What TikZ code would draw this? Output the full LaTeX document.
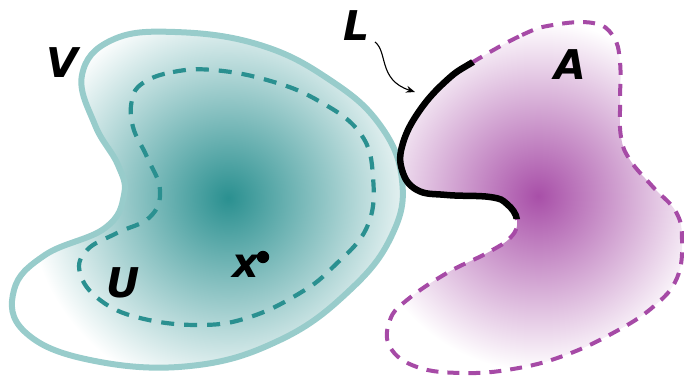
\documentclass[tikz,border=0pt]{standalone}
\usepackage{fontspec}
\setsansfont{DejaVu Sans}
\usetikzlibrary{arrows.meta}
\definecolor{tealc}{HTML}{2A9090}
\definecolor{tealout}{HTML}{98CCCB}
\definecolor{purp}{HTML}{A84FA8}
\definecolor{purpd}{HTML}{A64AA6}
\tikzset{
  lbl/.style={font=\sffamily\bfseries\itshape\fontsize{41}{41}\selectfont, inner sep=0pt},
  vline/.style={draw=tealout, line width=6pt},
  uline/.style={draw=tealc, line width=4.2pt, dash pattern=on 13pt off 10pt},
  aline/.style={draw=purpd, line width=4pt, dash pattern=on 12pt off 9pt},
  lline/.style={draw=black, line width=6.5pt},
}
\begin{document}
\begin{tikzpicture}[x=1pt,y=-1pt]
\useasboundingbox (0,0) rectangle (684,377);
\def\Vpath{plot[smooth cycle, tension=0.7] coordinates {(82,75) (112,40) (175,32) (260,45) (330,80) (380,125) (402,180) (392,235) (350,290) (280,340) (190,366) (90,360) (25,332) (14,290) (45,255) (105,228) (124,195) (118,165) (95,125)}}
\def\Upath{plot[smooth cycle, tension=0.7] coordinates {(143,83) (173,72) (213,70) (267,80) (317,100) (360,133) (373,177) (367,227) (333,267) (300,293) (250,317) (200,325) (140,318) (100,300) (80,273) (87,250) (117,233) (150,217) (160,190) (147,157) (133,127) (132,100)}}
\def\Apath{plot[smooth cycle, tension=0.7] coordinates {(473,62) (522,35) (553,25) (593,23) (613,36) (620,62) (620,103) (621,137) (630,160) (653,187) (676,212) (682,240) (677,278) (653,307) (613,333) (563,356) (513,369) (463,373) (417,367) (390,347) (390,320) (407,300) (447,273) (487,253) (511,237) (517,220) (507,204) (490,197) (447,195) (417,190) (402,170) (403,143) (420,110) (447,80)}}
% V region
\begin{scope}
  \clip \Vpath;
  \shade[inner color=tealc, outer color=white] (228,198) circle (200);
\end{scope}
\draw[vline] \Vpath;
\draw[uline] \Upath;
% A region
\begin{scope}
  \clip \Apath;
  \shade[inner color=purp, outer color=white] (538,196) circle (175);
\end{scope}
\draw[aline] \Apath;
\begin{scope}
  \clip (443,22) -- (503,102) -- (545,219) -- (370,219) -- (370,22) -- cycle;
  \draw[lline] \Apath;
\end{scope}
% labels
\node[lbl] (V) at (62,63) {V};
\node[lbl] (U) at (123,283) {U};
\node[lbl] (X) at (246,266) {x};
\fill (263,257) circle (6.2) coordinate (xpt);
\node[lbl] (A) at (570,65) {A};
\node[lbl] (L) at (357,26) {L};
\coordinate (Ltip) at (415,92);
\draw[line width=1.1pt, -{Stealth[length=9pt,width=7pt]}] (375,42) .. controls (388,52) and (378,80) .. (Ltip);
\end{tikzpicture}
\end{document}
